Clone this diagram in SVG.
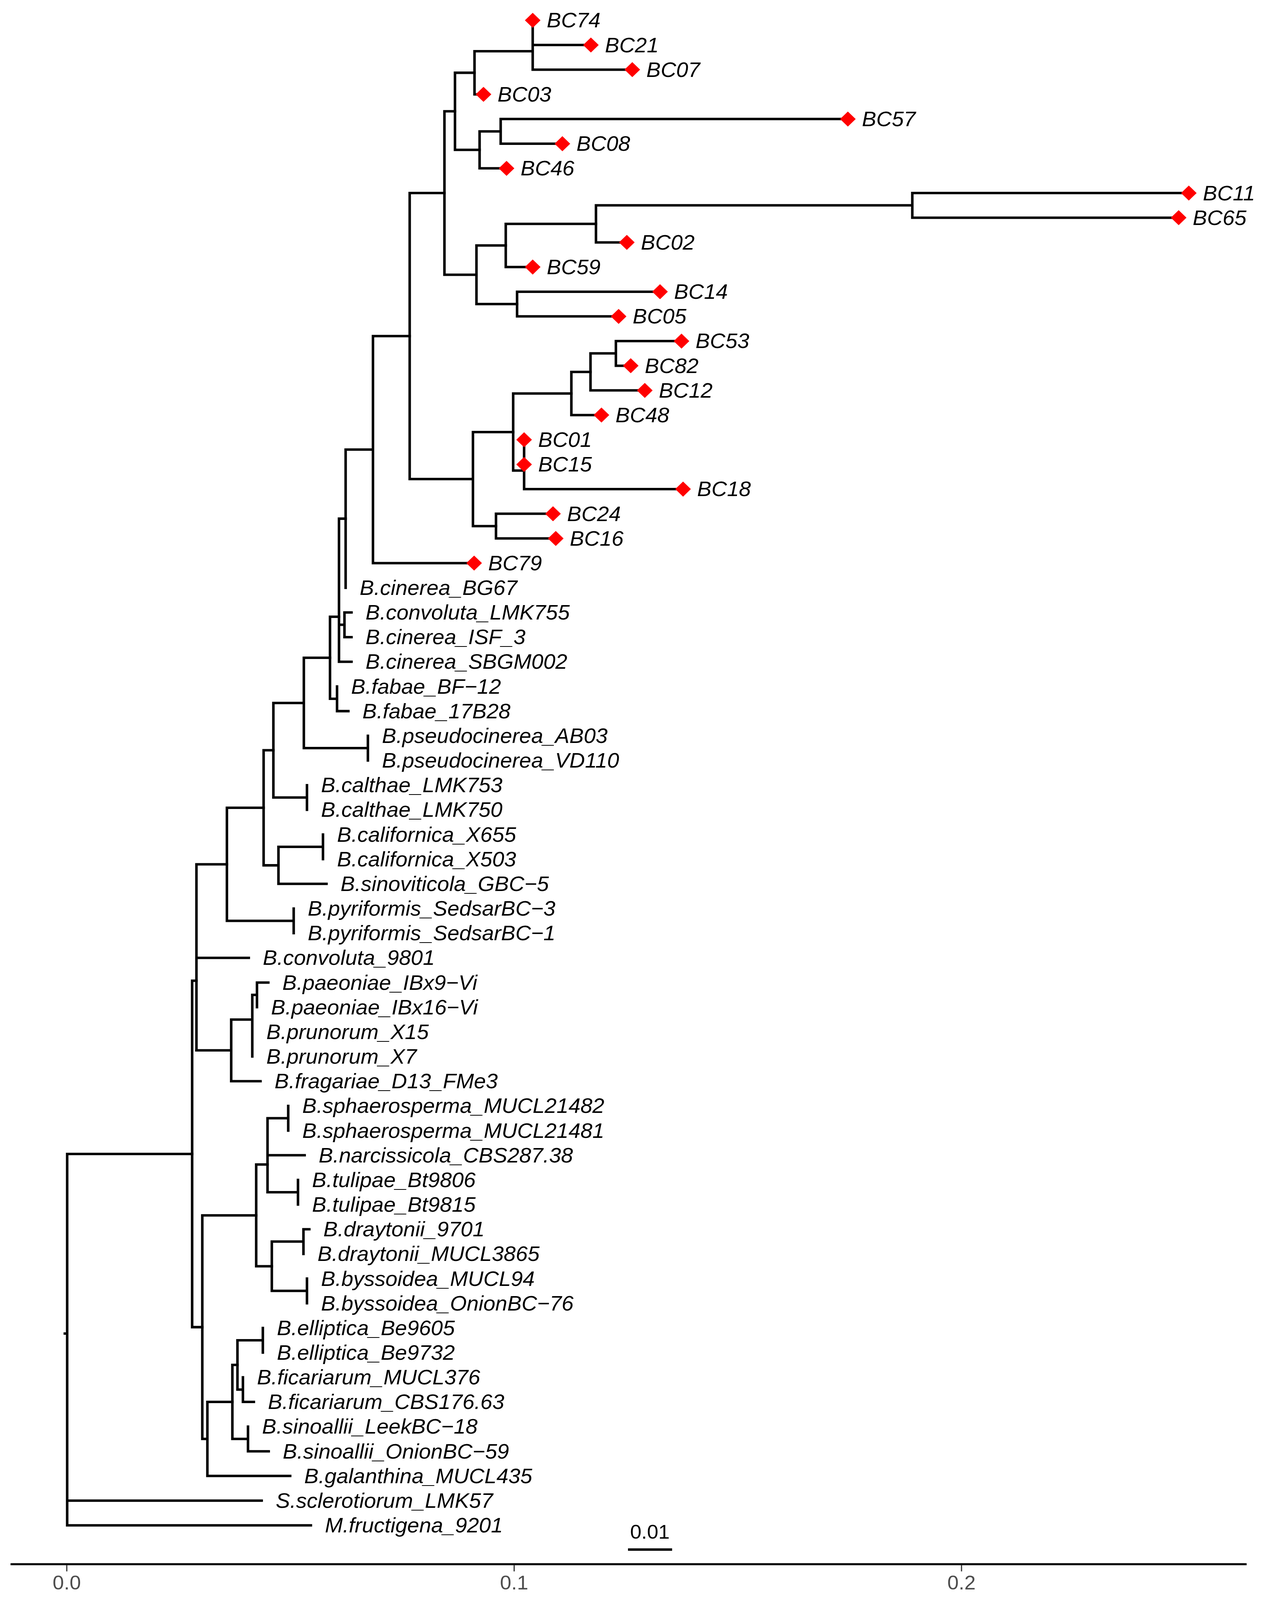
<svg xmlns="http://www.w3.org/2000/svg" width="3257" height="4250" viewBox="0 0 3257 4250">
<style>
.br{fill:none;stroke:#000;stroke-width:6.5;stroke-linecap:square}
.lb{font-family:"Liberation Sans",Arial,sans-serif;font-style:italic;font-size:55px;fill:#000}
.ax{font-family:"Liberation Sans",Arial,sans-serif;font-size:52px;fill:#4d4d4d;text-anchor:middle}
.dia{fill:#ff0000}
</style>
<defs>
<path id="dm" class="dia" d="M0,-20 L20,0 L0,20 L-20,0Z"/>
</defs>
<rect width="3257" height="4250" fill="#fff"/>
<g id="plot" transform="matrix(1 0 0 0.96353 0 0)">
<g id="connectors" class="br">
<path d="M1364 54V185.1M1364 119.6H1513M1364 185.1H1619M1215 136V250.7M1215 136H1364M1215 250.7H1238"/>
<path d="M1282 316.2V381.8M1282 316.2H2171M1282 381.8H1440M1228 349V447.3M1228 349H1282M1228 447.3H1297"/>
<path d="M1165 193.3V398.2M1165 193.3H1215M1165 398.2H1228"/>
<path d="M2336 512.9V578.4M2336 512.9H3044M2336 578.4H3018M1526 545.6V644M1526 545.6H2336M1526 644H1605"/>
<path d="M1295 594.8V709.5M1295 594.8H1526M1295 709.5H1364M1324 775.1V840.6M1324 775.1H1690M1324 840.6H1584"/>
<path d="M1220 652.1V807.8M1220 652.1H1295M1220 807.8H1324M1138 295.7V730M1138 295.7H1165M1138 730H1220"/>
<path d="M1577 906.2V971.7M1577 906.2H1745M1577 971.7H1615M1512 938.9V1037.3M1512 938.9H1577M1512 1037.3H1651"/>
<path d="M1463 988.1V1102.8M1463 988.1H1512M1463 1102.8H1540M1342 1168.4V1299.5M1342 1299.5H1749"/>
<path d="M1314 1045.4V1250.3M1314 1045.4H1463M1314 1250.3H1342M1270 1365V1430.6M1270 1365H1416M1270 1430.6H1423"/>
<path d="M1211 1147.9V1397.8M1211 1147.9H1314M1211 1397.8H1270M1049 512.9V1272.8M1049 512.9H1138M1049 1272.8H1211"/>
<path d="M955 892.9V1496.1M955 892.9H1049M955 1496.1H1214M885 1194.5V1561.7M885 1194.5H955"/>
<path d="M882 1627.2V1692.8M882 1627.2H900M882 1692.8H900M868 1378V1758.3M868 1378H885M868 1660H882M868 1758.3H900"/>
<path d="M863 1823.9V1889.4M863 1889.4H892M845 1638.7V1856.6M845 1638.7H868M845 1856.6H863"/>
<path d="M942 1955V2020.5M778 1747.6V1987.7M778 1747.6H845M778 1987.7H942M786 2086.1V2151.6M700 1867.7V2118.8M700 1867.7H778M700 2118.8H786"/>
<path d="M827 2217.2V2282.7M713 2249.9V2348.3M713 2249.9H827M713 2348.3H836M675 1993.2V2299.1M675 1993.2H700M675 2299.1H713"/>
<path d="M752 2413.8V2479.4M581 2146.2V2446.6M581 2146.2H675M581 2446.6H752"/>
<path d="M503 2296.4V2790.7M503 2296.4H581M503 2544.9H637"/>
<path d="M658 2610.5V2676M658 2610.5H687M646 2643.2V2807.1M646 2643.2H658M592 2708.8V2872.7M592 2708.8H646M592 2872.7H667M503 2790.7H592"/>
<path d="M738 2938.2V3003.8M685 2971V3167.6M685 2971H738M685 3069.3H780M763 3134.9V3200.4M685 3167.6H763"/>
<path d="M777 3266V3331.5M777 3266H792M786 3397.1V3462.6M696 3298.7V3429.8M696 3298.7H777M696 3429.8H786"/>
<path d="M656 3093.9V3364.3M656 3093.9H685M656 3364.3H696"/>
<path d="M673 3528.2V3593.7M622 3659.3V3724.8M622 3724.8H650M608 3560.9V3692M608 3560.9H673M608 3692H622"/>
<path d="M635 3790.4V3855.9M635 3855.9H688M595 3626.5V3823.1M595 3626.5H608M595 3823.1H635"/>
<path d="M531 3724.8V3921.5M531 3724.8H595M531 3921.5H743M518 3229.1V3823.1M518 3229.1H656M518 3823.1H531"/>
<path d="M492 2605.7V3526.1M492 2605.7H503M492 3526.1H518"/>
<path d="M172 3065.9V4052.6M172 3065.9H492M172 3987H670M172 4052.6H796M166 3543H172"/>
</g>
<g id="tips">
<g id="tip-BC74" transform="translate(1364,54)"><use href="#dm"/><text class="lb" x="36" y="19">BC74</text></g>
<g id="tip-BC21" transform="translate(1513,119.6)"><use href="#dm"/><text class="lb" x="36" y="19">BC21</text></g>
<g id="tip-BC07" transform="translate(1619,185.1)"><use href="#dm"/><text class="lb" x="36" y="19">BC07</text></g>
<g id="tip-BC03" transform="translate(1238,250.7)"><use href="#dm"/><text class="lb" x="36" y="19">BC03</text></g>
<g id="tip-BC57" transform="translate(2171,316.2)"><use href="#dm"/><text class="lb" x="36" y="19">BC57</text></g>
<g id="tip-BC08" transform="translate(1440,381.8)"><use href="#dm"/><text class="lb" x="36" y="19">BC08</text></g>
<g id="tip-BC46" transform="translate(1297,447.3)"><use href="#dm"/><text class="lb" x="36" y="19">BC46</text></g>
<g id="tip-BC11" transform="translate(3044,512.9)"><use href="#dm"/><text class="lb" x="36" y="19">BC11</text></g>
<g id="tip-BC65" transform="translate(3018,578.4)"><use href="#dm"/><text class="lb" x="36" y="19">BC65</text></g>
<g id="tip-BC02" transform="translate(1605,644)"><use href="#dm"/><text class="lb" x="36" y="19">BC02</text></g>
<g id="tip-BC59" transform="translate(1364,709.5)"><use href="#dm"/><text class="lb" x="36" y="19">BC59</text></g>
<g id="tip-BC14" transform="translate(1690,775.1)"><use href="#dm"/><text class="lb" x="36" y="19">BC14</text></g>
<g id="tip-BC05" transform="translate(1584,840.6)"><use href="#dm"/><text class="lb" x="36" y="19">BC05</text></g>
<g id="tip-BC53" transform="translate(1745,906.2)"><use href="#dm"/><text class="lb" x="36" y="19">BC53</text></g>
<g id="tip-BC82" transform="translate(1615,971.7)"><use href="#dm"/><text class="lb" x="36" y="19">BC82</text></g>
<g id="tip-BC12" transform="translate(1651,1037.3)"><use href="#dm"/><text class="lb" x="36" y="19">BC12</text></g>
<g id="tip-BC48" transform="translate(1540,1102.8)"><use href="#dm"/><text class="lb" x="36" y="19">BC48</text></g>
<g id="tip-BC01" transform="translate(1342,1168.4)"><use href="#dm"/><text class="lb" x="36" y="19">BC01</text></g>
<g id="tip-BC15" transform="translate(1342,1233.9)"><use href="#dm"/><text class="lb" x="36" y="19">BC15</text></g>
<g id="tip-BC18" transform="translate(1749,1299.5)"><use href="#dm"/><text class="lb" x="36" y="19">BC18</text></g>
<g id="tip-BC24" transform="translate(1416,1365)"><use href="#dm"/><text class="lb" x="36" y="19">BC24</text></g>
<g id="tip-BC16" transform="translate(1423,1430.6)"><use href="#dm"/><text class="lb" x="36" y="19">BC16</text></g>
<g id="tip-BC79" transform="translate(1214,1496.1)"><use href="#dm"/><text class="lb" x="36" y="19">BC79</text></g>
<g id="tip-cinerea_BG67" transform="translate(885,1561.7)"><text class="lb" x="36" y="19">B.cinerea_BG67</text></g>
<g id="tip-convoluta_LMK755" transform="translate(900,1627.2)"><text class="lb" x="36" y="19">B.convoluta_LMK755</text></g>
<g id="tip-cinerea_ISF_3" transform="translate(900,1692.8)"><text class="lb" x="36" y="19">B.cinerea_ISF_3</text></g>
<g id="tip-cinerea_SBGM002" transform="translate(900,1758.3)"><text class="lb" x="36" y="19">B.cinerea_SBGM002</text></g>
<g id="tip-fabae_BF-12" transform="translate(863,1823.9)"><text class="lb" x="36" y="19">B.fabae_BF−12</text></g>
<g id="tip-fabae_17B28" transform="translate(892,1889.4)"><text class="lb" x="36" y="19">B.fabae_17B28</text></g>
<g id="tip-pseudocinerea_AB03" transform="translate(942,1955)"><text class="lb" x="36" y="19">B.pseudocinerea_AB03</text></g>
<g id="tip-pseudocinerea_VD110" transform="translate(942,2020.5)"><text class="lb" x="36" y="19">B.pseudocinerea_VD110</text></g>
<g id="tip-calthae_LMK753" transform="translate(786,2086.1)"><text class="lb" x="36" y="19">B.calthae_LMK753</text></g>
<g id="tip-calthae_LMK750" transform="translate(786,2151.6)"><text class="lb" x="36" y="19">B.calthae_LMK750</text></g>
<g id="tip-californica_X655" transform="translate(827,2217.2)"><text class="lb" x="36" y="19">B.californica_X655</text></g>
<g id="tip-californica_X503" transform="translate(827,2282.7)"><text class="lb" x="36" y="19">B.californica_X503</text></g>
<g id="tip-sinoviticola_GBC-5" transform="translate(836,2348.3)"><text class="lb" x="36" y="19">B.sinoviticola_GBC−5</text></g>
<g id="tip-pyriformis_SedsarBC-3" transform="translate(752,2413.8)"><text class="lb" x="36" y="19">B.pyriformis_SedsarBC−3</text></g>
<g id="tip-pyriformis_SedsarBC-1" transform="translate(752,2479.4)"><text class="lb" x="36" y="19">B.pyriformis_SedsarBC−1</text></g>
<g id="tip-convoluta_9801" transform="translate(637,2544.9)"><text class="lb" x="36" y="19">B.convoluta_9801</text></g>
<g id="tip-paeoniae_IBx9-Vi" transform="translate(687,2610.5)"><text class="lb" x="36" y="19">B.paeoniae_IBx9−Vi</text></g>
<g id="tip-paeoniae_IBx16-Vi" transform="translate(658,2676)"><text class="lb" x="36" y="19">B.paeoniae_IBx16−Vi</text></g>
<g id="tip-prunorum_X15" transform="translate(646,2741.6)"><text class="lb" x="36" y="19">B.prunorum_X15</text></g>
<g id="tip-prunorum_X7" transform="translate(646,2807.1)"><text class="lb" x="36" y="19">B.prunorum_X7</text></g>
<g id="tip-fragariae_D13_FMe3" transform="translate(667,2872.7)"><text class="lb" x="36" y="19">B.fragariae_D13_FMe3</text></g>
<g id="tip-sphaerosperma_MUCL21482" transform="translate(738,2938.2)"><text class="lb" x="36" y="19">B.sphaerosperma_MUCL21482</text></g>
<g id="tip-sphaerosperma_MUCL21481" transform="translate(738,3003.8)"><text class="lb" x="36" y="19">B.sphaerosperma_MUCL21481</text></g>
<g id="tip-narcissicola_CBS287.38" transform="translate(780,3069.3)"><text class="lb" x="36" y="19">B.narcissicola_CBS287.38</text></g>
<g id="tip-tulipae_Bt9806" transform="translate(763,3134.9)"><text class="lb" x="36" y="19">B.tulipae_Bt9806</text></g>
<g id="tip-tulipae_Bt9815" transform="translate(763,3200.4)"><text class="lb" x="36" y="19">B.tulipae_Bt9815</text></g>
<g id="tip-draytonii_9701" transform="translate(792,3266)"><text class="lb" x="36" y="19">B.draytonii_9701</text></g>
<g id="tip-draytonii_MUCL3865" transform="translate(777,3331.5)"><text class="lb" x="36" y="19">B.draytonii_MUCL3865</text></g>
<g id="tip-byssoidea_MUCL94" transform="translate(786,3397.1)"><text class="lb" x="36" y="19">B.byssoidea_MUCL94</text></g>
<g id="tip-byssoidea_OnionBC-76" transform="translate(786,3462.6)"><text class="lb" x="36" y="19">B.byssoidea_OnionBC−76</text></g>
<g id="tip-elliptica_Be9605" transform="translate(673,3528.2)"><text class="lb" x="36" y="19">B.elliptica_Be9605</text></g>
<g id="tip-elliptica_Be9732" transform="translate(673,3593.7)"><text class="lb" x="36" y="19">B.elliptica_Be9732</text></g>
<g id="tip-ficariarum_MUCL376" transform="translate(622,3659.3)"><text class="lb" x="36" y="19">B.ficariarum_MUCL376</text></g>
<g id="tip-ficariarum_CBS176.63" transform="translate(650,3724.8)"><text class="lb" x="36" y="19">B.ficariarum_CBS176.63</text></g>
<g id="tip-sinoallii_LeekBC-18" transform="translate(635,3790.4)"><text class="lb" x="36" y="19">B.sinoallii_LeekBC−18</text></g>
<g id="tip-sinoallii_OnionBC-59" transform="translate(688,3855.9)"><text class="lb" x="36" y="19">B.sinoallii_OnionBC−59</text></g>
<g id="tip-galanthina_MUCL435" transform="translate(743,3921.5)"><text class="lb" x="36" y="19">B.galanthina_MUCL435</text></g>
<g id="tip-sclerotiorum_LMK57" transform="translate(670,3987)"><text class="lb" x="36" y="19">S.sclerotiorum_LMK57</text></g>
<g id="tip-fructigena_9201" transform="translate(796,4052.6)"><text class="lb" x="36" y="19">M.fructigena_9201</text></g>
</g>
<g id="scale-bar">
<path d="M1608 4117H1721" stroke="#000" stroke-width="6.5"/>
<text x="1664" y="4088" font-family="Liberation Sans, Arial, sans-serif" font-size="52" text-anchor="middle" fill="#000">0.01</text>
</g>
<g id="axis">
<path d="M27 4156H3192" stroke="#000" stroke-width="5.5"/>
<path d="M171 4158V4175M1316.5 4158V4175M2462 4158V4175" stroke="#333" stroke-width="3"/>
<text class="ax" x="171" y="4223">0.0</text>
<text class="ax" x="1316.5" y="4223">0.1</text>
<text class="ax" x="2462" y="4223">0.2</text>
</g>
</g>
</svg>
